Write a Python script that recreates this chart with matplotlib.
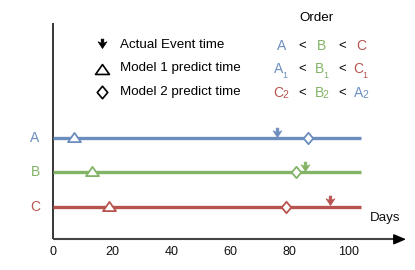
import matplotlib
matplotlib.use("Agg")
import matplotlib.pyplot as plt
from matplotlib.path import Path
import numpy as np

plt.rcParams['font.family'] = ['Liberation Sans', 'DejaVu Sans']

# ---- data ----
rows = ['A', 'B', 'C']
row_y = [3, 2, 1]
colors = ['#6C8EBF', '#82B366', '#B85450']
line_start = [0, 0, 0]
line_end = [104, 104, 104]
actual_event = [75.7, 85.3, 93.7]
model1_pred = [7.0, 13.2, 18.8]
model2_pred = [86.0, 82.1, 78.6]
xticks = [0, 20, 40, 60, 80, 100]
legend_labels = ['Actual Event time', 'Model 1 predict time', 'Model 2 predict time']

# ---- pixel helpers (figure is 415x270 px) ----
PX0, PXS = 53.0, 2.96          # px of x=0, px per day
PY1, PYS = 206.7, 34.2         # px of y=1, px per unit

def dx(px):
    return (px - PX0) / PXS

def dy(py):
    return 1 - (py - PY1) / PYS

# ---- markers ----
arrow_path = Path([(0, 0), (0.47, 0.72), (0.14, 0.56), (0.14, 1.0), (-0.14, 1.0),
                   (-0.14, 0.56), (-0.47, 0.72), (0, 0)],
                  [Path.MOVETO] + [Path.LINETO] * 6 + [Path.CLOSEPOLY])
tri_path = Path([(-0.7, -0.5), (0.7, -0.5), (0, 0.5), (-0.7, -0.5)],
                [Path.MOVETO, Path.LINETO, Path.LINETO, Path.CLOSEPOLY])
dia_path = Path([(0, -0.55), (0.46, 0), (0, 0.55), (-0.46, 0), (0, -0.55)],
                [Path.MOVETO, Path.LINETO, Path.LINETO, Path.LINETO, Path.CLOSEPOLY])

fig = plt.figure(figsize=(4.15, 2.70), dpi=100)
ax = fig.add_axes([0, 0, 1, 1])
ax.set_xlim(dx(0), dx(415))
ax.set_ylim(dy(270), dy(0))
ax.axis('off')

FS = 9.6

# axes lines
ax.plot([0, 0], [dy(239.3), dy(23)], color='black', lw=1.1, solid_capstyle='butt')
ax.plot([0, dx(396)], [dy(239.3), dy(239.3)], color='#444444', lw=1.5, solid_capstyle='butt')
ax.annotate('', xy=(dx(406), dy(239.3)), xytext=(dx(394), dy(239.3)),
            arrowprops=dict(arrowstyle='-|>,head_length=0.75,head_width=0.32',
                            color='black', lw=1.0, shrinkA=0, shrinkB=0))
for t in xticks:
    ax.text(t, dy(252), str(t), ha='center', va='center', fontsize=9, color='#111111')
ax.text(dx(385), dy(218), 'Days', ha='center', va='center', fontsize=FS, color='#111111')

# series
for name, y, c, s, e, ae, m1, m2 in zip(rows, row_y, colors, line_start, line_end,
                                        actual_event, model1_pred, model2_pred):
    ax.plot([s, e], [y, y], color=c, lw=2.4, solid_capstyle='butt', zorder=2)
    ax.text(dx(35), y, name, ha='center', va='center', fontsize=10, color=c)
    ax.plot([m1], [y + 0.03], marker=tri_path, ms=9.3, mfc='white', mec=c, mew=1.3, ls='none', zorder=3)
    ax.plot([m2], [y], marker=dia_path, ms=8.2, mfc='white', mec=c, mew=1.3, ls='none', zorder=3)
    ax.plot([ae], [y + 0.045], marker=arrow_path, ms=13.5, mfc=c, mec=c, mew=0.5, ls='none', zorder=4)

# legend
leg_y = [44.5, 68.3, 91.5]
ax.plot([dx(102)], [dy(48.3)], marker=arrow_path, ms=13.5, mfc='black', mec='black', mew=0.5, ls='none')
ax.plot([dx(101.5)], [dy(69)], marker=tri_path, ms=10, mfc='white', mec='black', mew=1.2, ls='none')
ax.plot([dx(101.5)], [dy(92)], marker=dia_path, ms=9, mfc='white', mec='black', mew=1.2, ls='none')
for lbl, py in zip(legend_labels, leg_y):
    ax.text(dx(120), dy(py), lbl, ha='left', va='center', fontsize=FS, color='black')

# order table
ax.text(dx(316), dy(18), 'Order', ha='center', va='center', fontsize=FS, color='black')
col_x = [281.7, 322, 361.7]
lt_x = [302.3, 342.3]
order_rows = [
    (['A', 'B', 'C'], [0, 1, 2], '', 46),
    (['A', 'B', 'C'], [0, 1, 2], '1', 69),
    (['C', 'B', 'A'], [2, 1, 0], '2', 93.3),
]
for letters, cidx, sub, py in order_rows:
    for k, (L, ci) in enumerate(zip(letters, cidx)):
        cx = col_x[k] - (3 if sub else 0)
        ax.text(dx(cx), dy(py), L, ha='center', va='center', fontsize=10, color=colors[ci])
        if sub == '1':
            ax.text(dx(cx + 6.5), dy(py + 6), sub, ha='center', va='center', fontsize=6.5, color=colors[ci])
        elif sub == '2':
            ax.text(dx(cx + 6.5), dy(py + 1.5), sub, ha='center', va='center', fontsize=7.5, color=colors[ci])
    for lx in lt_x:
        ax.text(dx(lx), dy(py), '<', ha='center', va='center', fontsize=9.5, color='black')

fig.savefig('out.png', dpi=100)
